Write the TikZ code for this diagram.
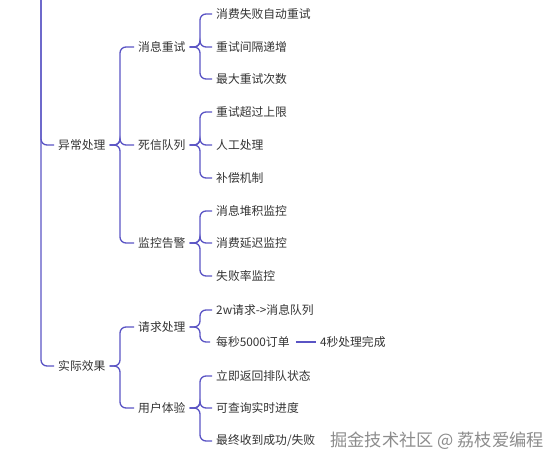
\documentclass[tikz,border=0pt]{standalone}
\usepackage{fontspec}
\setmainfont{Noto Sans CJK SC}
\usetikzlibrary{positioning}
\definecolor{branch}{RGB}{90,84,196}
\definecolor{ink}{RGB}{51,51,51}
\definecolor{mark}{RGB}{140,140,140}

\begin{document}
\begin{tikzpicture}[x=1pt, y=-1pt,
    topic/.style={anchor=west, inner xsep=4pt, inner ysep=2pt, text=ink,
        font=\fontsize{11.8}{13}\selectfont},
    link/.style={draw=branch, line width=1.3pt, rounded corners=6pt}]
    \useasboundingbox (0,0) rectangle (559,463);

    % Root line coming from above the visible area
    \coordinate (root) at (41,-20);

    % Level 1
    \node[topic] (ex)  at (54,145) {异常处理};
    \node[topic] (eff) at (54,366) {实际效果};

    % Level 2
    \node[topic] (retry) at (134,47)  {消息重试};
    \node[topic] (dlq)   at (134,145) {死信队列};
    \node[topic] (mon)   at (134,243) {监控告警};
    \node[topic] (req)   at (134,327) {请求处理};
    \node[topic] (user)  at (134,408) {用户体验};

    % Level 3: retry
    \node[topic] (r1) at (212,14) {消费失败自动重试};
    \node[topic] (r2) at (212,47) {重试间隔递增};
    \node[topic] (r3) at (212,79) {最大重试次数};
    % Level 3: dead letter queue
    \node[topic] (d1) at (212,112) {重试超过上限};
    \node[topic] (d2) at (212,145) {人工处理};
    \node[topic] (d3) at (212,178) {补偿机制};
    % Level 3: monitoring
    \node[topic] (m1) at (212,211) {消息堆积监控};
    \node[topic] (m2) at (212,243) {消费延迟监控};
    \node[topic] (m3) at (212,276) {失败率监控};
    % Level 3: requests
    \node[topic, inner xsep=6pt] (q2) at (210,342) {每秒5000订单};
    \node[topic] (q1) at (212,310) {2w请求->消息队列};
    \node[topic, right=20pt of q2.east, anchor=west] (q3) {4秒处理完成};
    % Level 3: user experience
    \node[topic] (u1) at (212,376) {立即返回排队状态};
    \node[topic] (u2) at (212,408) {可查询实时进度};
    \node[topic] (u3) at (212,441) {最终收到成功/失败};

    % Connectors
    \foreach \c in {ex,eff}
        \draw[link] (root) |- (\c.west);
    \foreach \c in {retry,dlq,mon}
        \draw[link] (ex.east) -- (120,145) |- (\c.west);
    \foreach \c in {req,user}
        \draw[link] (eff.east) -- (120,366) |- (\c.west);
    \foreach \c in {r1,r2,r3}
        \draw[link] (retry.east) -- (200,47) |- (\c.west);
    \foreach \c in {d1,d2,d3}
        \draw[link] (dlq.east) -- (200,145) |- (\c.west);
    \foreach \c in {m1,m2,m3}
        \draw[link] (mon.east) -- (200,243) |- (\c.west);
    \foreach \c in {q1,q2}
        \draw[link] (req.east) -- (200,327) |- (\c.west);
    \foreach \c in {u1,u2,u3}
        \draw[link] (user.east) -- (200,408) |- (\c.west);
    \draw[link] (q2.east) -- (q3.west);

    % Watermark
    \node[anchor=west, text=mark, font=\fontsize{17.2}{19}\selectfont] (wm) at (327,441)
        {掘金技术社区 @ 荔枝爱编程};
\end{tikzpicture}
\end{document}
